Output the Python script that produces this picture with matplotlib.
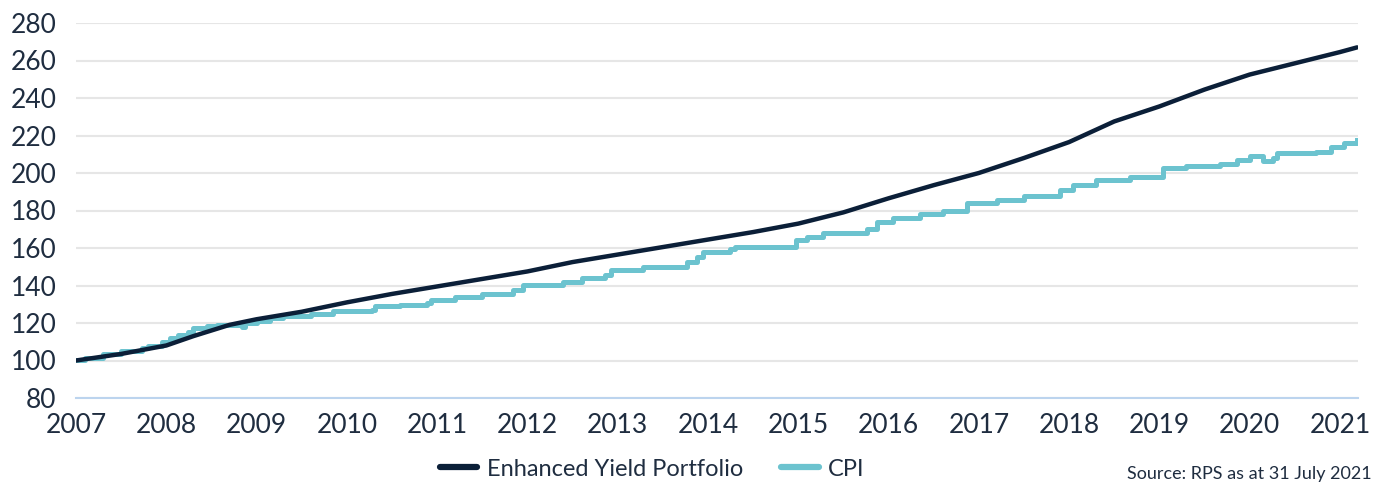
import matplotlib
matplotlib.use("Agg")
import matplotlib.pyplot as plt

# Enhanced Yield Portfolio (smooth growth)
eyp_years = [2007.0, 2007.5, 2008.0, 2008.3, 2008.7, 2009.0, 2009.5, 2010.0, 2010.5,
             2011.0, 2011.5, 2012.0, 2012.5, 2013.0, 2013.5, 2014.0, 2014.5, 2015.0,
             2015.5, 2016.0, 2016.5, 2017.0, 2017.5, 2018.0, 2018.5, 2019.0, 2019.5,
             2020.0, 2020.5, 2021.0, 2021.19]
eyp_values = [100, 103.5, 108, 113, 119, 122, 126, 131, 135.5,
              139.5, 143.5, 147.5, 152.5, 156.5, 160.5, 164.5, 168.5, 173,
              179, 186.5, 193.5, 200, 208, 216.5, 227.5, 235.5, 244.5,
              252.5, 258.5, 264.5, 267]

# CPI (stepped index)
cpi_years = [2007.0, 2007.1, 2007.3, 2007.5, 2007.73, 2007.8, 2007.95, 2008.04, 2008.13,
             2008.24, 2008.3, 2008.45, 2008.56, 2008.84, 2008.87, 2009.0, 2009.15, 2009.29,
             2009.6, 2009.85, 2010.28, 2010.31, 2010.59, 2010.89, 2010.93, 2011.2, 2011.5,
             2011.84, 2011.95, 2012.39, 2012.6, 2012.86, 2012.93, 2013.28, 2013.77, 2013.88,
             2013.95, 2014.24, 2014.3, 2014.82, 2014.98, 2015.1, 2015.27, 2015.76, 2015.87,
             2016.05, 2016.35, 2016.6, 2016.87, 2017.2, 2017.5, 2017.9, 2018.04, 2018.3,
             2018.67, 2019.04, 2019.3, 2019.67, 2019.86, 2020.0, 2020.15, 2020.26, 2020.3,
             2020.74, 2020.9, 2021.05, 2021.19]
cpi_values = [100.5, 101.5, 103.5, 105, 106.5, 108, 110, 112, 113.8,
              115, 117.5, 118.3, 119, 118, 119.8, 121, 122.5, 124,
              124.8, 126.3, 127.2, 129.2, 129.5, 130.5, 132.5, 133.8, 135.5,
              137.6, 140.5, 142, 144, 145.5, 148.3, 150, 152.7, 155.4,
              158, 159.3, 160.7, 160.3, 164.3, 166, 168.2, 170, 174,
              175.8, 178.1, 180, 183.8, 185.5, 187.5, 190.9, 193.6, 196.3,
              198, 202.5, 203.8, 204.8, 206.9, 209, 206.4, 207.8, 210.5,
              211.4, 214, 216, 217.6]

year_ticks = list(range(2007, 2022))
y_ticks = list(range(80, 281, 20))

NAVY = "#0b1f38"
TEAL = "#6cc3cf"
TEXT = "#1f2d40"

plt.rcParams["font.family"] = ["Lato", "DejaVu Sans"]

fig = plt.figure(figsize=(13.84, 4.84), dpi=100)
ax = fig.add_axes([76 / 1384, 1 - 398 / 484, (1358 - 76) / 1384, (398 - 23) / 484])

ax.plot(eyp_years, eyp_values, color=NAVY, lw=3.2, label="Enhanced Yield Portfolio",
        solid_capstyle="round", zorder=3)
ax.plot(cpi_years, cpi_values, color=TEAL, lw=3.6, label="CPI", drawstyle="steps-post",
        zorder=2)

ax.set_xlim(2007, 2021.2)
ax.set_ylim(80, 280)
ax.set_xticks(year_ticks)
ax.set_yticks(y_ticks)
ax.set_xticklabels([str(y) for y in year_ticks])
ax.tick_params(axis="both", length=0, labelsize=19, colors=TEXT)
ax.tick_params(axis="x", pad=11)
ax.tick_params(axis="y", pad=14)

ax.grid(axis="y", color="#e6e6e6", lw=1.5)
ax.set_axisbelow(True)
for s in ["top", "right", "left"]:
    ax.spines[s].set_visible(False)
ax.spines["bottom"].set_color("#bcd4ee")
ax.spines["bottom"].set_linewidth(1.5)
ax.spines["bottom"].set_zorder(1)

leg = fig.legend(loc="center", bbox_to_anchor=(652 / 1384, 1 - 469 / 484), ncol=2,
                 frameon=False, fontsize=17, handlelength=1.6, handletextpad=0.4,
                 columnspacing=1.6, labelcolor=TEXT)
for h in leg.get_lines():
    h.set_linewidth(4.5)
    h.set_solid_capstyle("round")
    h.set_drawstyle("default")

fig.text(1372 / 1384, 2 / 484, "Source: RPS as at 31 July 2021", ha="right", va="bottom",
         fontsize=13, color=TEXT)

fig.savefig("out.png", dpi=100)
